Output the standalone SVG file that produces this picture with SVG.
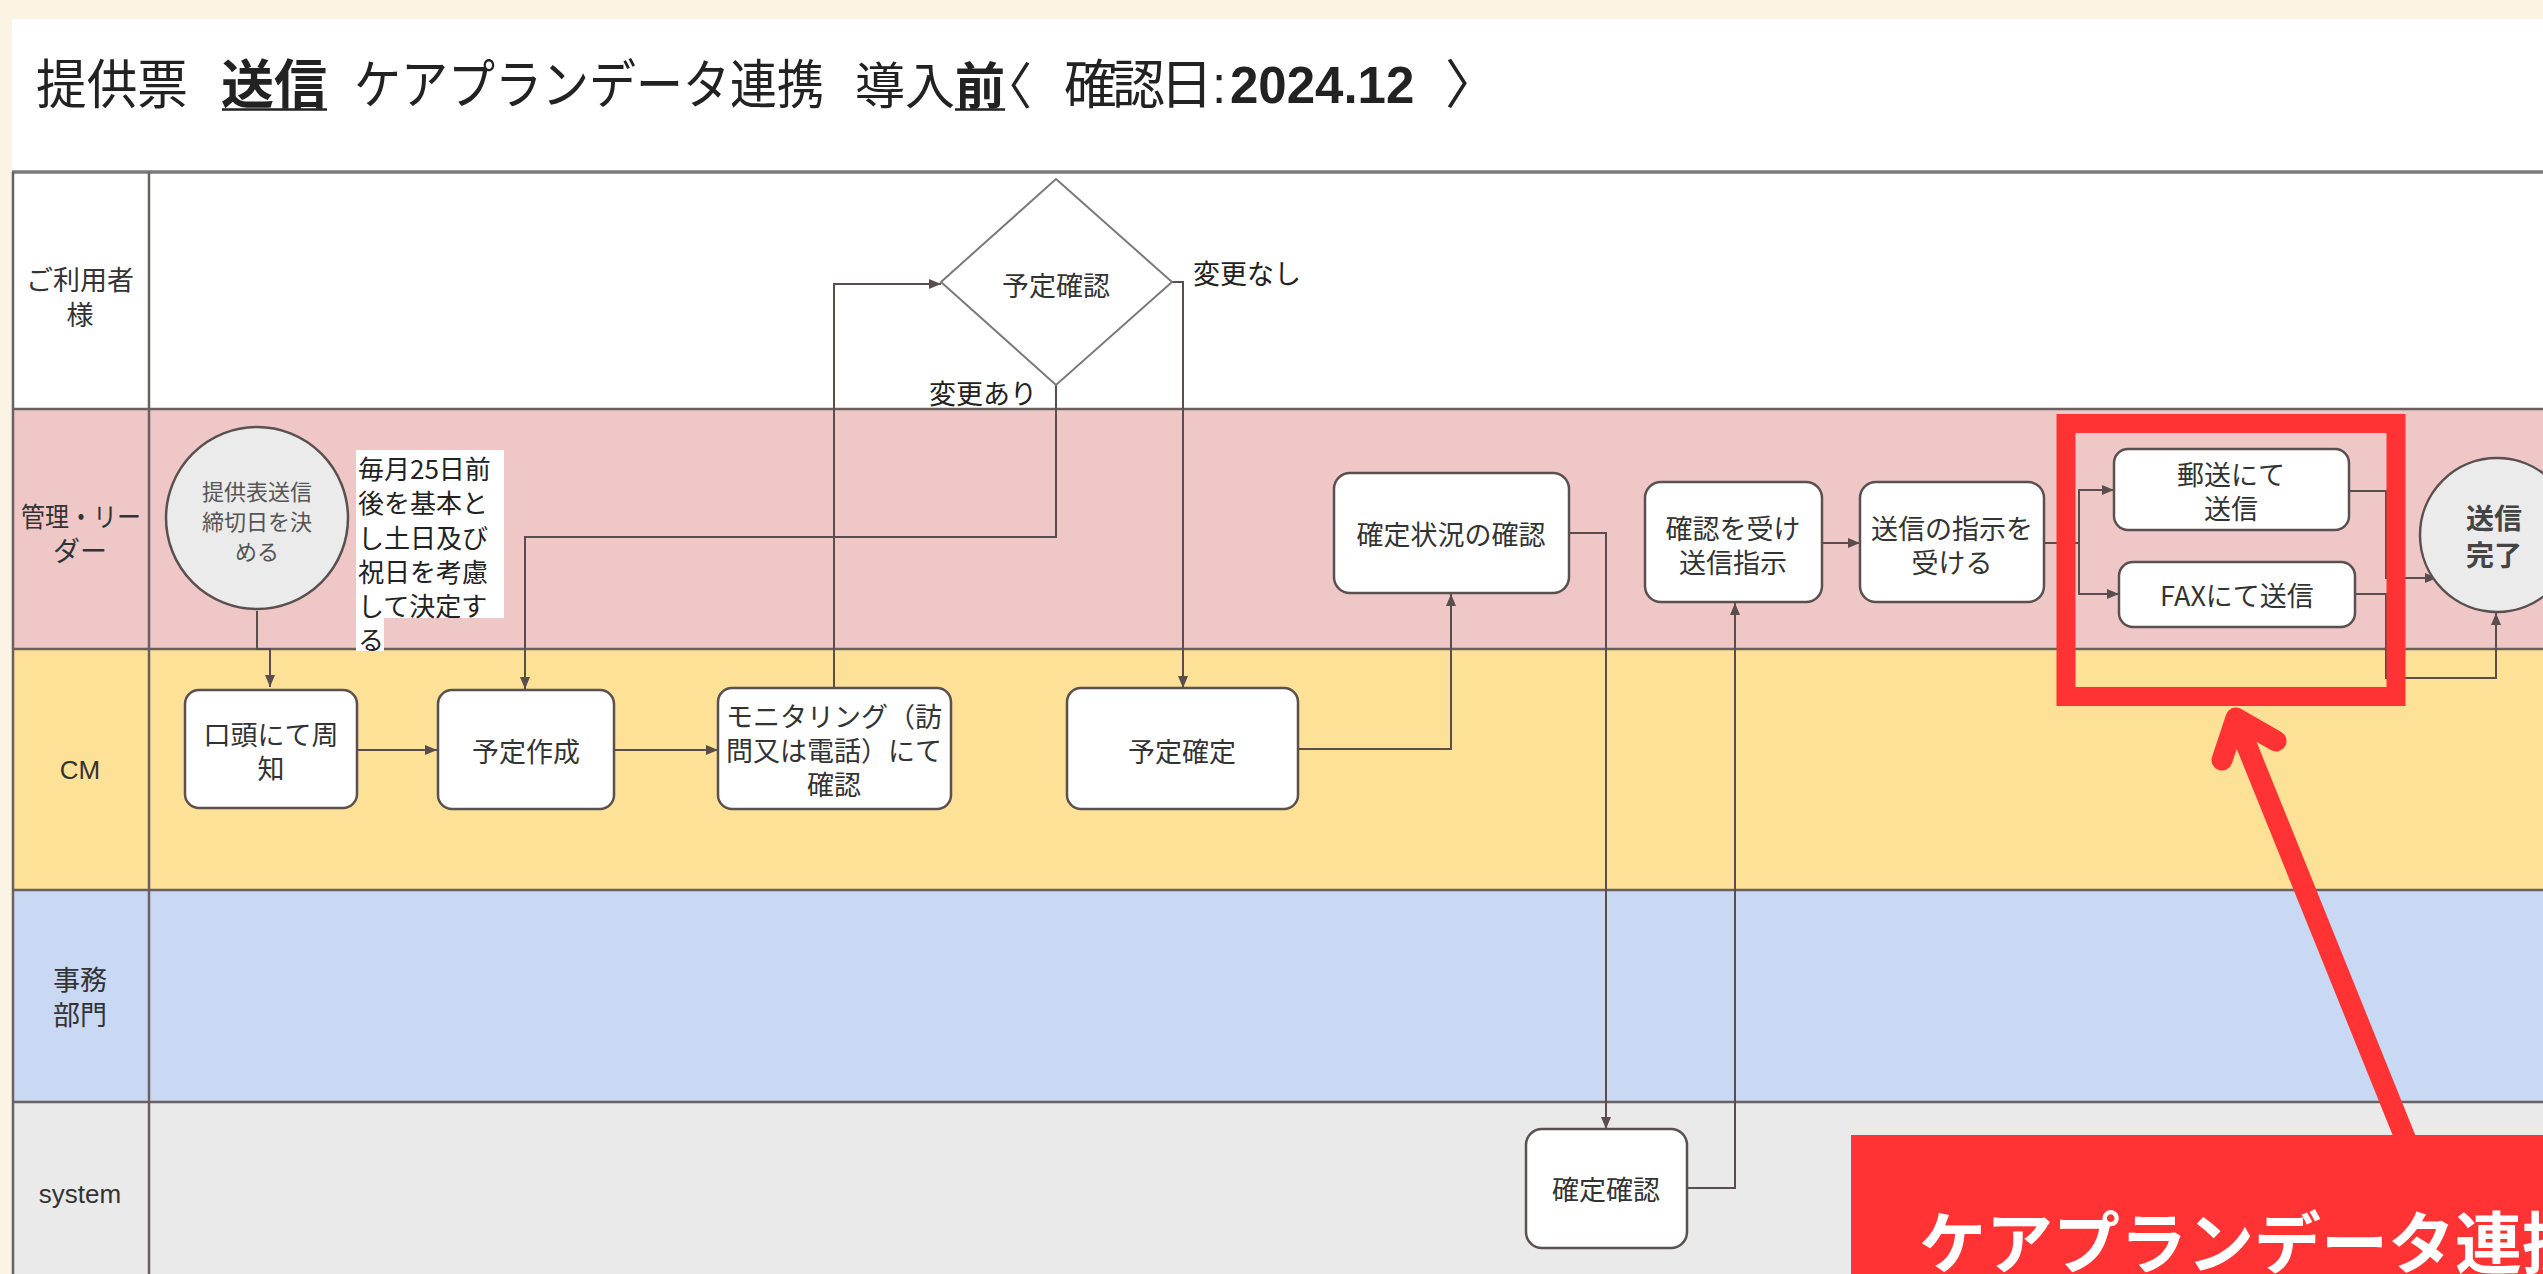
<svg xmlns="http://www.w3.org/2000/svg" width="2543" height="1274" viewBox="0 0 2543 1274">
<defs>
<marker id="ah" markerUnits="userSpaceOnUse" markerWidth="13" markerHeight="10" refX="12" refY="5" orient="auto"><path d="M0,0 L12,5 L0,10 z" fill="#5a4d4d"/></marker>
<style>
.ln{fill:none;stroke:#5a4d4d;stroke-width:2}
.box{fill:#fff;stroke:#5a5050;stroke-width:2.5}
.circ{fill:#ebebeb;stroke:#5a5050;stroke-width:2.5}
.t{font-family:'Noto Sans CJK JP','Noto Sans',sans-serif;font-size:27px;fill:#333;text-anchor:middle;dominant-baseline:central}
.tl{font-family:'Noto Sans CJK JP','Noto Sans',sans-serif;font-size:27px;fill:#222;dominant-baseline:central}
.lat{font-family:'Liberation Sans',Arial,sans-serif;font-size:26px;fill:#333;text-anchor:middle;dominant-baseline:central}
.lane{stroke:#6b5f5f;stroke-width:2.5}
.ttl{font-family:'Noto Sans CJK JP','Noto Sans',sans-serif;font-size:53px;fill:#222}
.b{font-weight:bold}
.halt{font-feature-settings:'halt'}
</style>
</defs>
<rect x="0" y="0" width="2543" height="1274" fill="#fbf3e3"/>
<rect x="12" y="19" width="2531" height="1255" fill="#ffffff"/>

<g id="title">
<text class="ttl" x="36" y="104" textLength="152" lengthAdjust="spacingAndGlyphs">提供票</text>
<text class="ttl b" x="221" y="104" textLength="106" lengthAdjust="spacingAndGlyphs">送信</text>
<line x1="222" y1="109.5" x2="327" y2="109.5" stroke="#222" stroke-width="2.5"/>
<text class="ttl" x="354" y="104" textLength="470" lengthAdjust="spacingAndGlyphs">ケアプランデータ連携</text>
<text class="ttl" x="855 905" y="104" style="font-size:50px">導入</text>
<text class="ttl b" x="955" y="104" style="font-size:50px">前</text>
<line x1="955" y1="109.5" x2="1005" y2="109.5" stroke="#222" stroke-width="2.5"/>
<text class="ttl halt" x="1007" y="104" style="font-size:50px">〈</text>
<text class="ttl" x="1064 1112 1160" y="104">確認日</text>
<text x="1212" y="103" font-family="'Liberation Sans',Arial,sans-serif" font-size="51" fill="#222">:<tspan x="1230" font-weight="bold">2024.12</tspan></text>
<text class="ttl" x="1445" y="104">〉</text>
</g>

<g id="lanes">
<rect x="12" y="172" width="2531" height="237" fill="#ffffff"/>
<rect x="12" y="409" width="2531" height="240" fill="#efc7c7"/>
<rect x="12" y="649" width="2531" height="241" fill="#fde197"/>
<rect x="12" y="890" width="2531" height="212" fill="#c9d8f3"/>
<rect x="12" y="1102" width="2531" height="172" fill="#eaeaea"/>
<line x1="12" y1="172" x2="2543" y2="172" stroke="#7a7a7a" stroke-width="3.5"/>
<line class="lane" x1="12" y1="409" x2="2543" y2="409"/>
<line class="lane" x1="12" y1="649" x2="2543" y2="649"/>
<line class="lane" x1="12" y1="890" x2="2543" y2="890"/>
<line class="lane" x1="12" y1="1102" x2="2543" y2="1102"/>
<line class="lane" x1="13" y1="172" x2="13" y2="1274"/>
<line class="lane" x1="149" y1="172" x2="149" y2="1274"/>
<text class="t" x="80" y="278">ご利用者</text>
<text class="t" x="80" y="313">様</text>
<text class="t" x="81" y="515" textLength="120" lengthAdjust="spacingAndGlyphs">管理・リー</text>
<text class="t" x="80" y="549">ダー</text>
<text class="lat" x="80" y="770">CM</text>
<text class="t" x="80" y="978">事務</text>
<text class="t" x="80" y="1013">部門</text>
<text class="lat" x="80" y="1194">system</text>
</g>

<g id="connectors">
<path class="ln" d="M257 611 V649 H270 V687" marker-end="url(#ah)"/>
<path class="ln" d="M357 750 H437" marker-end="url(#ah)"/>
<path class="ln" d="M614 750 H718" marker-end="url(#ah)"/>
<path class="ln" d="M834 688 V284 H941" marker-end="url(#ah)"/>
<path class="ln" d="M1056 385 V537 H525 V689" marker-end="url(#ah)"/>
<path class="ln" d="M1172 282 H1183 V688" marker-end="url(#ah)"/>
<path class="ln" d="M1298 749 H1451 V594" marker-end="url(#ah)"/>
<path class="ln" d="M1569 533 H1606 V1129" marker-end="url(#ah)"/>
<path class="ln" d="M1687 1188 H1735 V603" marker-end="url(#ah)"/>
<path class="ln" d="M1822 543 H1860" marker-end="url(#ah)"/>
<path class="ln" d="M2044 543 H2079 V490 H2114" marker-end="url(#ah)"/>
<path class="ln" d="M2079 543 V594 H2119" marker-end="url(#ah)"/>
<path class="ln" d="M2349 491 H2386 V578 H2437" marker-end="url(#ah)"/>
<path class="ln" d="M2355 594 H2386 V678 H2496 V613" marker-end="url(#ah)"/>
<text class="tl" x="1193" y="272">変更なし</text>
<text class="tl" x="929" y="392">変更あり</text>
</g>

<g id="n-start">
<circle class="circ" cx="257" cy="518" r="91"/>
<text class="t" x="257" y="490" style="font-size:22px;fill:#555">提供表送信</text>
<text class="t" x="257" y="520" style="font-size:22px;fill:#555">締切日を決</text>
<text class="t" x="257" y="550" style="font-size:22px;fill:#555">める</text>
</g>

<g id="n-note">
<rect x="356" y="450" width="148" height="168" fill="#ffffff"/>
<rect x="356" y="618" width="28" height="33" fill="#ffffff"/>
<text class="tl" x="358" y="467" style="font-size:26px">毎月25日前</text>
<text class="tl" x="358" y="501" style="font-size:26px">後を基本と</text>
<text class="tl" x="358" y="536" style="font-size:26px">し土日及び</text>
<text class="tl" x="358" y="570" style="font-size:26px">祝日を考慮</text>
<text class="tl" x="358" y="604" style="font-size:26px">して決定す</text>
<text class="tl" x="358" y="638" style="font-size:26px">る</text>
</g>

<g id="n-koto">
<rect class="box" x="185" y="690" width="172" height="118" rx="14"/>
<text class="t" x="271" y="733">口頭にて周</text>
<text class="t" x="271" y="767">知</text>
</g>

<g id="n-yotei-sakusei">
<rect class="box" x="438" y="690" width="176" height="119" rx="14"/>
<text class="t" x="526" y="750">予定作成</text>
</g>

<g id="n-monitoring">
<rect class="box" x="718" y="688" width="233" height="121" rx="14"/>
<text class="t" x="834" y="715">モニタリング（訪</text>
<text class="t" x="834" y="749">問又は電話）にて</text>
<text class="t" x="834" y="783">確認</text>
</g>

<g id="n-yotei-kakunin">
<polygon points="1056,179 1172,282 1056,385 941,282" fill="#ffffff" stroke="#7a7a7a" stroke-width="2"/>
<text class="t" x="1056" y="284">予定確認</text>
</g>

<g id="n-yotei-kakutei">
<rect class="box" x="1067" y="688" width="231" height="121" rx="14"/>
<text class="t" x="1182" y="750">予定確定</text>
</g>

<g id="n-kakutei-jokyo">
<rect class="box" x="1334" y="473" width="235" height="120" rx="16"/>
<text class="t" x="1451" y="533">確定状況の確認</text>
</g>

<g id="n-kakutei-kakunin">
<rect class="box" x="1526" y="1129" width="161" height="119" rx="16"/>
<text class="t" x="1606" y="1188">確定確認</text>
</g>

<g id="n-soshin-shiji">
<rect class="box" x="1645" y="482" width="177" height="120" rx="16"/>
<text class="t" x="1733" y="527">確認を受け</text>
<text class="t" x="1733" y="561">送信指示</text>
</g>

<g id="n-shiji-ukeru">
<rect class="box" x="1860" y="482" width="184" height="120" rx="16"/>
<text class="t" x="1952" y="527">送信の指示を</text>
<text class="t" x="1952" y="561">受ける</text>
</g>

<g id="n-yuso">
<rect class="box" x="2114" y="449" width="235" height="81" rx="14"/>
<text class="t" x="2231" y="473">郵送にて</text>
<text class="t" x="2231" y="507">送信</text>
</g>

<g id="n-fax">
<rect class="box" x="2119" y="562" width="236" height="65" rx="14"/>
<text class="t" x="2237" y="594">FAXにて送信</text>
</g>

<g id="n-end">
<circle class="circ" cx="2497" cy="535" r="77"/>
<text class="t" x="2494" y="517" style="font-size:28px;font-weight:bold;fill:#444">送信</text>
<text class="t" x="2494" y="554" style="font-size:28px;font-weight:bold;fill:#444">完了</text>
</g>

<g id="highlight">
<rect x="2066" y="423.5" width="330" height="273" fill="none" stroke="#ff3333" stroke-width="19"/>
<line x1="2410" y1="1150" x2="2236" y2="719" stroke="#ff3333" stroke-width="21" stroke-linecap="round"/>
<path d="M2222 760 L2236 718 L2276 741" fill="none" stroke="#ff3333" stroke-width="21" stroke-linecap="round" stroke-linejoin="round"/>
<rect x="1851" y="1135" width="700" height="145" fill="#ff3333"/>
<text x="1919" y="1268" font-family="'Noto Sans CJK JP','Noto Sans',sans-serif" font-size="67" font-weight="bold" fill="#ffffff">ケアプランデータ連携</text>
</g>
</svg>
